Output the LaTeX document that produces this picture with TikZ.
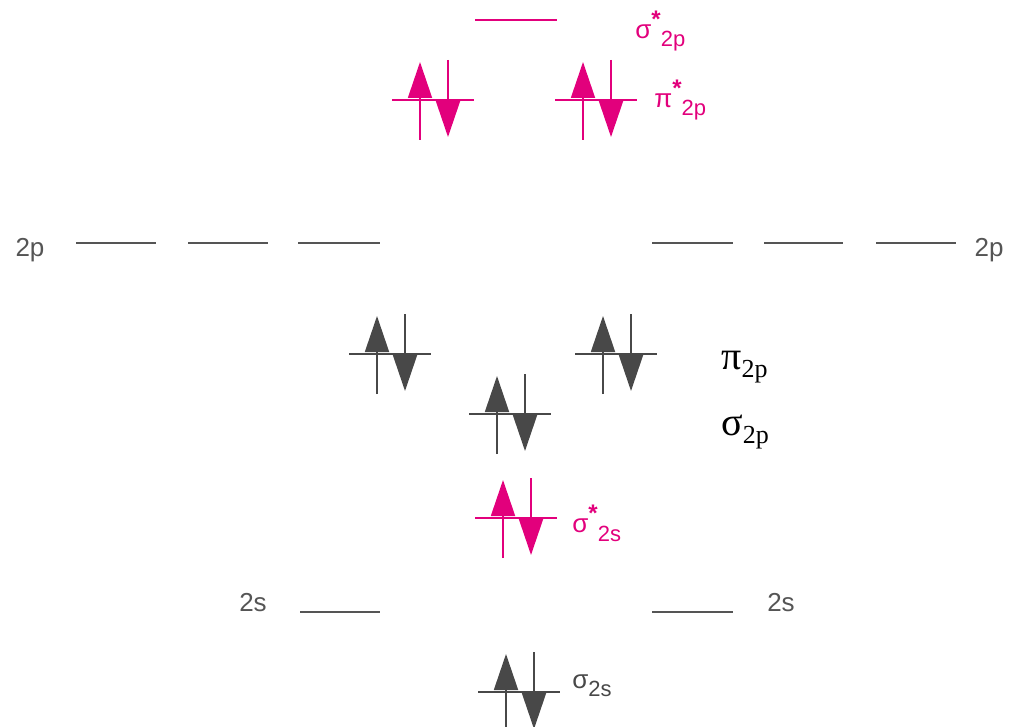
\documentclass[tikz,border=0pt]{standalone}
\usepackage{fontspec}
\setmainfont{Liberation Sans}
\newfontfamily\timesfont{Liberation Serif}
\usepackage{tikz}
\usetikzlibrary{positioning,arrows.meta}

\definecolor{mo}{RGB}{226,0,124}
\definecolor{dk}{RGB}{72,72,72}
\definecolor{lvgray}{RGB}{85,85,85}

\begin{document}
\begin{tikzpicture}[
  x=0.5pt, y=-0.5pt,
  lvl/.style={line width=1pt},
  aolvl/.style={lvl, draw=lvgray},
  spin/.style={line width=0.9pt, -{Triangle[length=18pt, width=12pt]}},
  eorb/.pic={
    \draw[lvl] (-28,0) -- (54,0);
    \draw[spin] (0,40) -- (0,-38);
    \draw[spin] (28,-40) -- (28,37);
  },
  aolab/.style={text=lvgray, font=\fontsize{13}{13}\selectfont, inner sep=0pt},
  molab/.style={anchor=west, inner sep=0pt, font=\fontsize{13}{13}\selectfont},
  bigmo/.style={anchor=west, inner sep=0pt, font=\timesfont\fontsize{20}{20}\selectfont}
]
\useasboundingbox (0,0) rectangle (1011,727);

% antibonding 2p
\draw[lvl, draw=mo] (475,20) coordinate (sigstarA) -- (557,20) coordinate (sigstarB);
\pic[mo] (pistarL) at (420,100) {eorb};
\pic[mo] (pistarR) at (583,100) {eorb};

% atomic 2p
\draw[aolvl] (76,243) coordinate (pLa) -- (156,243) coordinate (pLb);
\draw[aolvl] (188,243) coordinate (pLc) -- (268,243) coordinate (pLd);
\draw[aolvl] (298,243) coordinate (pLe) -- (380,243) coordinate (pLf);
\draw[aolvl] (652,243) coordinate (pRa) -- (733,243) coordinate (pRb);
\draw[aolvl] (764,243) coordinate (pRc) -- (843,243) coordinate (pRd);
\draw[aolvl] (876,243) coordinate (pRe) -- (956,243) coordinate (pRf);

% bonding 2p
\pic[dk] (piL) at (377,354) {eorb};
\pic[dk] (piR) at (603,354) {eorb};
\pic[dk] (sigp) at (497,414) {eorb};

% 2s levels
\pic[mo] (sigstars) at (503,518) {eorb};
\draw[aolvl] (300,612) coordinate (sLa) -- (380,612) coordinate (sLb);
\draw[aolvl] (652,612) coordinate (sRa) -- (733,612) coordinate (sRb);
\pic[dk] (sigs) at (506,692) {eorb};

% labels
\node[aolab] (lab2pL) at (30,250) {2p};
\node[aolab] (lab2pR) at (989,250) {2p};
\node[aolab] (lab2sL) at (253,603) {2s};
\node[aolab] (lab2sR) at (781,603) {2s};
\node[molab, text=mo] (labsigstarp) at (635,31)
  {σ\raisebox{0.85ex}{\fontsize{12}{12}\selectfont\bfseries*}\raisebox{-0.6ex}{\fontsize{11}{11}\selectfont 2p}};
\node[molab, text=mo] (labpistar) at (654,100)
  {π\raisebox{0.85ex}{\fontsize{12}{12}\selectfont\bfseries*}\raisebox{-0.6ex}{\fontsize{11}{11}\selectfont 2p}};
\node[bigmo] (labpi) at (721,367)
  {π\raisebox{-0.4ex}{\fontsize{13}{13}\selectfont 2p}};
\node[bigmo] (labsig) at (721,432)
  {σ\raisebox{-0.4ex}{\fontsize{13}{13}\selectfont 2p}};
\node[molab, text=mo] (labsigstars) at (572,523)
  {σ\raisebox{0.85ex}{\fontsize{12}{12}\selectfont\bfseries*}\raisebox{-0.6ex}{\fontsize{11}{11}\selectfont 2s}};
\node[molab, text=dk] (labsigs) at (572,686)
  {σ\raisebox{-0.6ex}{\fontsize{11}{11}\selectfont 2s}};
\end{tikzpicture}
\end{document}
